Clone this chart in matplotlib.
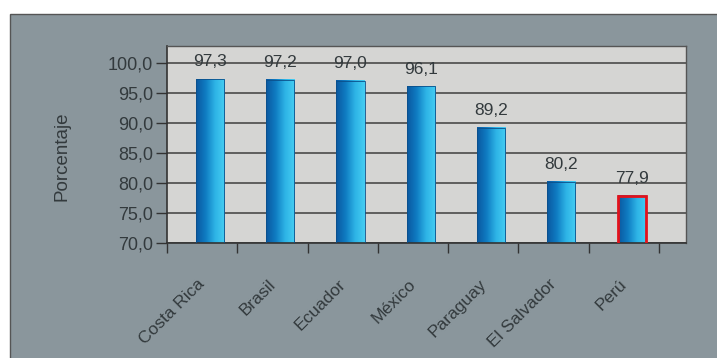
import numpy as np
import matplotlib
matplotlib.use("Agg")
import matplotlib.pyplot as plt
from matplotlib.patches import Rectangle
from matplotlib.colors import LinearSegmentedColormap

paises = ["Costa Rica", "Brasil", "Ecuador", "México", "Paraguay", "El Salvador", "Perú"]
porcentaje = [97.3, 97.2, 97.0, 96.1, 89.2, 80.2, 77.9]
yticks = [70, 75, 80, 85, 90, 95, 100]
resaltado = "Perú"

plt.rcParams['font.family'] = ['Liberation Sans', 'DejaVu Sans']
texto = '#333a3d'
fondo = '#8a969c'

W, H = 717, 358
fig = plt.figure(figsize=(W / 100, H / 100), dpi=100)
fig.patch.set_facecolor('white')

# marco gris exterior
fig.patches.append(Rectangle((10 / W, -0.05), 1.2, 1 - 14 / H + 0.05,
                             transform=fig.transFigure, facecolor=fondo,
                             edgecolor='#555555', linewidth=1.0, zorder=-10))

ax = fig.add_axes([167 / W, (H - 243) / H, (686 - 167) / W, (243 - 46) / H])
ax.set_zorder(1)
ax.set_facecolor('#d5d5d3')

x = np.arange(len(paises))
off = 0.11
bw = 0.4
bars = ax.bar(x + off, porcentaje, width=bw, bottom=0, color='none',
              edgecolor='#0a4f8a', linewidth=0.6, zorder=3)

cmap = LinearSegmentedColormap.from_list('az', ['#0a58a0', '#0f7cc2', '#2eb4e6', '#45cdf2'])
grad = np.linspace(0, 1, 64).reshape(1, -1)
for b, p in zip(bars, paises):
    x0, w, h = b.get_x(), b.get_width(), b.get_height()
    ax.imshow(grad, cmap=cmap, extent=[x0, x0 + w, 70, h], aspect='auto',
              zorder=2, interpolation='bilinear')
    if p == resaltado:
        b.set_edgecolor('#e3121b')
        b.set_linewidth(2.0)

for xi, v in zip(x, porcentaje):
    ax.annotate(f"{v:.1f}".replace('.', ','), (xi + off, v), xytext=(0, 7),
                textcoords='offset points', ha='center', va='bottom',
                fontsize=12.5, color=texto, zorder=4, annotation_clip=False)

ax.set_ylim(70, 102.8)
ax.set_xlim(-0.5, len(paises) - 0.5 + 27 / 70.3)
ax.set_yticks(yticks)
ax.set_yticklabels([f"{t:.1f}".replace('.', ',') for t in yticks], fontsize=13, color=texto)
ax.tick_params(axis='y', direction='out', length=8, width=1, color='#333333', pad=2)

ax.set_xticks(x + 0.08)
ax.set_xticklabels(paises, rotation=45, ha='right', fontsize=12.5, color=texto)
ax.set_xticks(np.arange(len(paises) + 1) - 0.5, minor=True)
ax.tick_params(axis='x', which='major', length=0, pad=24)
ax.tick_params(axis='x', which='minor', direction='out', length=7, width=1, color='#333333')

ax.grid(axis='y', color='#4a4a4a', linewidth=1.2, zorder=1)
ax.set_axisbelow(True)
for s in ['left', 'bottom']:
    ax.spines[s].set_color('#333333')
    ax.spines[s].set_linewidth(1.2)
for s in ['top', 'right']:
    ax.spines[s].set_color('#555555')
    ax.spines[s].set_linewidth(1.0)

fig.text(62 / W, 1 - 156 / H, "Porcentaje", rotation=90, ha='center', va='center',
         fontsize=13.5, color=texto)

fig.savefig("out.png", dpi=100)
